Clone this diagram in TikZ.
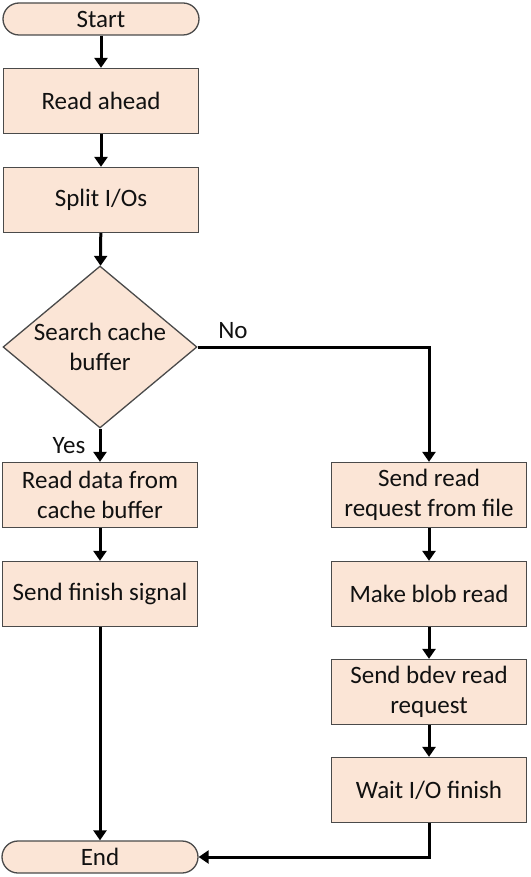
\documentclass[tikz,border=0pt]{standalone}
\usepackage{fontspec}
\setmainfont{Carlito}
\usetikzlibrary{shapes.geometric,arrows.meta}
\definecolor{boxfill}{HTML}{FBE5D6}
\definecolor{boxline}{HTML}{4A4A4A}
\definecolor{txt}{HTML}{111111}
\begin{document}
\begin{tikzpicture}[x=1pt,y=-1pt,
  base/.style={draw=boxline, fill=boxfill, line width=1.3pt, inner sep=0pt, align=center, text=txt, font=\fontsize{25}{30}\selectfont},
  box/.style={base, minimum width=195pt, minimum height=65pt},
  term/.style={base, minimum width=196pt, minimum height=32pt, rounded corners=16pt},
  dec/.style={base, shape=diamond, minimum width=194pt, minimum height=162pt, aspect=1.2},
  lbl/.style={text=txt, font=\fontsize{25}{30}\selectfont, inner sep=0pt},
  arr/.style={line width=3pt, -{Triangle[width=13pt,length=10pt]}}
]
\useasboundingbox (0,0) rectangle (530,877);
\node[term] (start) at (101,19) {Start};
\node[box] (ra) at (101,101) {Read ahead};
\node[box] (split) at (101,200) {Split I/Os};
\node[dec] (search) at (100,347) {Search cache\\buffer};
\node[box] (rd) at (100,495) {Read data from\\cache buffer};
\node[box] (fin) at (100,594) {Send finish signal};
\node[term] (end) at (100,857) {End};
\node[box] (srr) at (429,495) {Send read\\request from file};
\node[box] (blob) at (429,594) {Make blob read};
\node[box] (bdev) at (429,692) {Send bdev read\\request};
\node[box] (wait) at (429,790) {Wait I/O finish};
\coordinate (nocorner) at (429,347);
\coordinate (endcorner) at (429,857);
\node[lbl] (no) at (233,331) {No};
\node[lbl] (yes) at (69,446) {Yes};
\draw[arr] (start) -- (ra);
\draw[arr] (ra) -- (split);
\draw[arr] (split) -- (search);
\draw[arr] (search) -- (rd);
\draw[arr] (rd) -- (fin);
\draw[arr] (fin) -- (end);
\draw[arr] (search.east) -- (nocorner) -- (srr.north);
\draw[arr] (srr) -- (blob);
\draw[arr] (blob) -- (bdev);
\draw[arr] (bdev) -- (wait);
\draw[arr] (wait.south) -- (endcorner) -- (end.east);
\end{tikzpicture}
\end{document}
